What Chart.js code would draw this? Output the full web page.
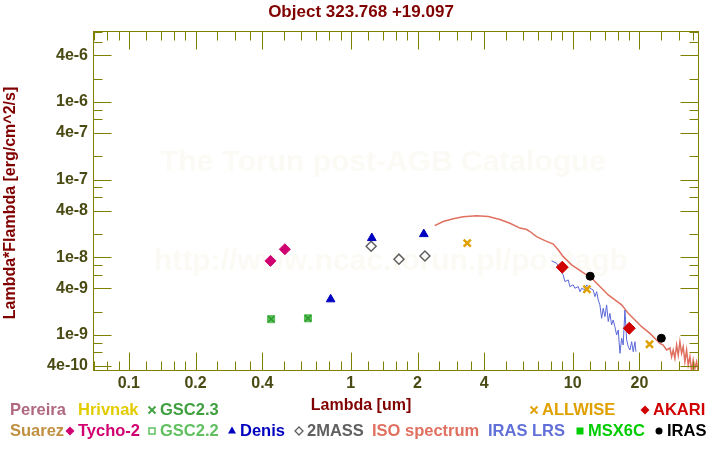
<!DOCTYPE html>
<html><head><meta charset="utf-8">
<script src="https://cdn.jsdelivr.net/npm/chart.js@4"></script>
<style>html,body{margin:0;padding:0;background:#fff}#wrap{width:720px;height:450px;position:relative}</style>
</head><body><div id="wrap"><canvas id="c" width="720" height="450"></canvas></div>
<script>
const titleText = 'Object 323.768 +19.097';
const xTitle = 'Lambda [um]';
const yTitle = 'Lambda*Flambda [erg/cm^2/s]';
const watermark1 = 'The Torun post-AGB Catalogue';
const watermark2 = 'http://www.ncac.torun.pl/postagb';

// photometry (wavelength in um, lambda*F_lambda in erg/cm^2/s)
const tychoWave = [0.435, 0.505];
const tychoFlux = [9.0e-9, 1.27e-8];
const gsc23Wave = [0.438, 0.642];
const gsc23Flux = [1.60e-9, 1.64e-9];
const gsc22Wave = [0.438, 0.642];
const gsc22Flux = [1.60e-9, 1.64e-9];
const denisWave = [0.812, 1.245, 2.135];
const denisFlux = [2.88e-9, 1.77e-8, 1.99e-8];
const twomassWave = [1.236, 1.65, 2.16];
const twomassFlux = [1.39e-8, 9.47e-9, 1.04e-8];
const allwiseWave = [3.35, 11.6, 22.2];
const allwiseFlux = [1.52e-8, 3.88e-9, 7.6e-10];
const akariWave = [8.98, 18.0];
const akariFlux = [7.46e-9, 1.22e-9];
const irasWave = [12.0, 25.1];
const irasFlux = [5.71e-9, 9.08e-10];

// ISO spectrum
const isoWave = [2.39, 2.61, 2.90, 3.21, 3.69, 4.17, 4.70, 5.22, 5.79, 6.21, 6.42, 6.88, 7.50, 8.18, 8.61, 9.07, 9.90, 10.98, 12.18, 13.27, 14.47, 15.50, 16.63, 17.81, 19.09, 20.46, 22.30, 24.73, 25.59, 26.50, 27.44, 27.92, 28.39, 28.89, 29.41, 29.91, 30.43, 30.97, 31.49, 32.05, 32.62, 33.17, 33.76, 34.36, 34.93, 35.55, 36.19, 36.80];
const isoFlux = [2.56e-8, 2.89e-8, 3.13e-8, 3.32e-8, 3.42e-8, 3.35e-8, 3.07e-8, 2.75e-8, 2.38e-8, 2.28e-8, 2.15e-8, 1.85e-8, 1.64e-8, 1.48e-8, 1.25e-8, 1.02e-8, 8.0e-9, 6.55e-9, 5.38e-9, 4.20e-9, 3.28e-9, 2.83e-9, 2.44e-9, 1.90e-9, 1.56e-9, 1.28e-9, 1.05e-9, 7.82e-10, 7.43e-10, 6.41e-10, 6.80e-10, 5.25e-10, 6.41e-10, 5.01e-10, 7.43e-10, 5.52e-10, 8.20e-10, 5.81e-10, 7.06e-10, 4.53e-10, 6.41e-10, 4.10e-10, 5.25e-10, 3.37e-10, 4.77e-10, 3.72e-10, 4.53e-10, 3.37e-10];

// IRAS LRS spectrum
const lrsWave = [8.04, 8.47, 8.77, 9.07, 9.23, 9.55, 9.72, 10.06, 10.24, 10.60, 10.79, 10.98, 11.36, 11.56, 11.96, 12.38, 12.60, 12.83, 13.04, 13.27, 13.51, 13.73, 13.98, 14.23, 14.47, 14.72, 14.98, 15.23, 15.50, 15.78, 16.05, 16.34, 16.63, 16.90, 17.20, 17.51, 17.81, 18.12, 18.45, 18.75, 19.09, 19.28];
const lrsFlux = [9.0e-9, 8.39e-9, 6.89e-9, 5.94e-9, 4.87e-9, 5.12e-9, 4.20e-9, 4.42e-9, 4.00e-9, 4.20e-9, 3.61e-9, 4.00e-9, 3.80e-9, 4.42e-9, 4.00e-9, 3.80e-9, 3.12e-9, 3.61e-9, 2.83e-9, 2.44e-9, 1.64e-9, 2.21e-9, 1.72e-9, 2.44e-9, 1.49e-9, 1.90e-9, 1.35e-9, 1.56e-9, 1.28e-9, 1.00e-9, 1.16e-9, 5.81e-10, 9.08e-10, 7.43e-10, 2.10e-9, 8.63e-10, 7.06e-10, 6.41e-10, 8.20e-10, 6.10e-10, 8.20e-10, 6.10e-10];

// axes
const xMin = 0.069, xMax = 37.1;
const yMin = 3.44e-10, yMax = 8.2e-6;
const xMajor = [0.1, 0.2, 0.4, 1, 2, 4, 10, 20];
const xMajorLabels = ['0.1', '0.2', '0.4', '1', '2', '4', '10', '20'];
const xMinor = [0.07, 0.08, 0.09, 0.12, 0.14, 0.16, 0.18, 0.25, 0.3, 0.35, 0.5, 0.6, 0.7, 0.8, 0.9, 1.2, 1.4, 1.6, 1.8, 2.5, 3, 3.5, 5, 6, 7, 8, 9, 12, 14, 16, 18, 25, 30, 35];
const yMajor = [4e-6, 1e-6, 4e-7, 1e-7, 4e-8, 1e-8, 4e-9, 1e-9, 4e-10];
const yMajorLabels = ['4e-6', '1e-6', '4e-7', '1e-7', '4e-8', '1e-8', '4e-9', '1e-9', '4e-10'];
const yMinor = [8e-6, 6e-6, 2e-6, 8e-7, 6e-7, 2e-7, 8e-8, 6e-8, 2e-8, 8e-9, 6e-9, 2e-9, 8e-10, 6e-10];

// legend rows
const legendRow1 = [
  {t: 'Pereira', c: '#b06880'},
  {t: 'Hrivnak', c: '#e2cc00'},
  {t: 'GSC2.3', c: '#40a040', m: 'cross'},
  {t: 'ALLWISE', c: '#e0a000', m: 'cross'},
  {t: 'AKARI', c: '#d00000', m: 'diamond'}
];
const legendRow2 = [
  {t: 'Suarez', c: '#c09040'},
  {t: 'Tycho-2', c: '#d00070', m: 'diamond'},
  {t: 'GSC2.2', c: '#60c060', m: 'hsquare'},
  {t: 'Denis', c: '#0000c0', m: 'triangle'},
  {t: '2MASS', c: '#606060', m: 'hdiamond'},
  {t: 'ISO spectrum', c: '#e07060'},
  {t: 'IRAS LRS', c: '#6070d8'},
  {t: 'MSX6C', c: '#00cc00', m: 'square'},
  {t: 'IRAS', c: '#000000', m: 'circle'}
];
// layout positions (px) for legend entries
const legendRow1X = [10, 78, 148, 530, 641];
const legendRow2X = [10, 66, 148, 228, 295, 372, 488, 576, 655];

const FONT = 'Liberation Sans, Arial, sans-serif';
const pts = (w, f) => w.map((x, i) => ({x, y: f[i]}));

function drawMarker(ctx, m, x, y, c) {
  ctx.save();
  ctx.fillStyle = c; ctx.strokeStyle = c; ctx.lineWidth = 1.8;
  ctx.beginPath();
  if (m === 'cross') {
    ctx.moveTo(x - 3.5, y - 3.5); ctx.lineTo(x + 3.5, y + 3.5);
    ctx.moveTo(x + 3.5, y - 3.5); ctx.lineTo(x - 3.5, y + 3.5); ctx.stroke();
  } else if (m === 'diamond') {
    ctx.moveTo(x, y - 4.5); ctx.lineTo(x + 4.5, y); ctx.lineTo(x, y + 4.5); ctx.lineTo(x - 4.5, y); ctx.closePath(); ctx.fill();
  } else if (m === 'hdiamond') {
    ctx.lineWidth = 1.3;
    ctx.moveTo(x, y - 4); ctx.lineTo(x + 4, y); ctx.lineTo(x, y + 4); ctx.lineTo(x - 4, y); ctx.closePath(); ctx.stroke();
  } else if (m === 'hsquare') {
    ctx.lineWidth = 1.5; ctx.strokeRect(x - 3, y - 3, 6, 6);
  } else if (m === 'square') {
    ctx.fillRect(x - 3.5, y - 3.5, 7, 7);
  } else if (m === 'triangle') {
    ctx.moveTo(x, y - 4.5); ctx.lineTo(x + 4, y + 2.5); ctx.lineTo(x - 4, y + 2.5); ctx.closePath(); ctx.fill();
  } else if (m === 'circle') {
    ctx.arc(x, y, 3.5, 0, Math.PI * 2); ctx.fill();
  }
  ctx.restore();
}

const decor = {
  id: 'decor',
  beforeDatasetsDraw(chart) {
    const ctx = chart.ctx;
    ctx.save();
    ctx.fillStyle = '#fcfaf4';
    ctx.font = 'bold 30px ' + FONT;
    ctx.textAlign = 'center'; ctx.textBaseline = 'middle';
    ctx.fillText(watermark1, 383, 163);
    ctx.fillText(watermark2, 391, 262);
    ctx.restore();
  },
  afterDatasetsDraw(chart) {
    const {ctx, chartArea: a, scales: {x, y}} = chart;
    ctx.save();
    ctx.strokeStyle = '#808000'; ctx.lineWidth = 1;
    const L = Math.round(a.left) + 0.5, R = Math.round(a.right) - 0.5;
    const T = Math.round(a.top) + 0.5, B = Math.round(a.bottom) - 0.5;
    ctx.strokeRect(L, T, R - L, B - T);
    ctx.beginPath();
    const xt = xMajor.map(v => [v, 18]).concat(xMinor.map(v => [v, 9]));
    xt.forEach(([v, len]) => {
      const p = Math.round(x.getPixelForValue(v)) + 0.5;
      if (p < L || p > R) return;
      ctx.moveTo(p, B); ctx.lineTo(p, B - len);
      ctx.moveTo(p, T); ctx.lineTo(p, T + len);
    });
    const yt = yMajor.map(v => [v, 18]).concat(yMinor.map(v => [v, 9]));
    yt.forEach(([v, len]) => {
      const p = Math.round(y.getPixelForValue(v)) + 0.5;
      if (p < T - 1 || p > B + 1) return;
      ctx.moveTo(L, p); ctx.lineTo(L + len, p);
      ctx.moveTo(R, p); ctx.lineTo(R - len, p);
    });
    ctx.stroke();
    ctx.restore();
  },
  afterDraw(chart) {
    const ctx = chart.ctx;
    ctx.save();
    ctx.fillStyle = '#800000';
    ctx.font = 'bold 17px ' + FONT;
    ctx.textAlign = 'center'; ctx.textBaseline = 'middle';
    ctx.fillText(titleText, 361, 12);
    ctx.font = 'bold 16px ' + FONT;
    ctx.fillText(xTitle, 361, 406);
    ctx.save();
    ctx.translate(11, 203); ctx.rotate(-Math.PI / 2);
    ctx.fillText(yTitle, 0, 0);
    ctx.restore();
    ctx.textAlign = 'left';
    const drawRow = (items, xs, yy) => {
      items.forEach((it, i) => {
        let px = xs[i];
        if (it.m) { drawMarker(ctx, it.m, px + 4, yy, it.c); px += 12; }
        ctx.fillStyle = it.c;
        ctx.fillText(it.t, px, yy);
      });
    };
    ctx.font = 'bold 16.5px ' + FONT;
    drawRow(legendRow1, legendRow1X, 410);
    drawRow(legendRow2, legendRow2X, 431);
    ctx.restore();
  }
};

const tickFont = {family: FONT, weight: 'bold', size: 16};
new Chart(document.getElementById('c'), {
  type: 'scatter',
  data: {
    datasets: [
      {label: 'ISO spectrum', data: pts(isoWave, isoFlux), showLine: true, borderColor: '#e07060', borderWidth: 1.5, pointRadius: 0, order: 10},
      {label: 'IRAS LRS', data: pts(lrsWave, lrsFlux), showLine: true, borderColor: '#5a68d8', borderWidth: 1, pointRadius: 0, order: 9},
      {label: 'GSC2.2', data: pts(gsc22Wave, gsc22Flux), pointStyle: 'rect', pointRadius: 5, backgroundColor: '#58c058', borderColor: '#58c058', order: 5},
      {label: 'GSC2.3', data: pts(gsc23Wave, gsc23Flux), pointStyle: 'crossRot', pointRadius: 4.5, borderColor: '#2f9a2f', borderWidth: 1.5, order: 4},
      {label: 'Tycho-2', data: pts(tychoWave, tychoFlux), pointStyle: 'rectRot', pointRadius: 5.5, backgroundColor: '#d00070', borderColor: '#d00070', order: 3},
      {label: 'Denis', data: pts(denisWave, denisFlux), pointStyle: 'triangle', pointRadius: 5, backgroundColor: '#0000c0', borderColor: '#0000c0', order: 3},
      {label: '2MASS', data: pts(twomassWave, twomassFlux), pointStyle: 'rectRot', pointRadius: 5, backgroundColor: 'rgba(0,0,0,0)', borderColor: '#606060', borderWidth: 1.5, order: 3},
      {label: 'ALLWISE', data: pts(allwiseWave, allwiseFlux), pointStyle: 'crossRot', pointRadius: 5, borderColor: '#e0a000', borderWidth: 2.5, order: 2},
      {label: 'AKARI', data: pts(akariWave, akariFlux), pointStyle: 'rectRot', pointRadius: 6, backgroundColor: '#d00000', borderColor: '#d00000', order: 1},
      {label: 'IRAS', data: pts(irasWave, irasFlux), pointStyle: 'circle', pointRadius: 4, backgroundColor: '#000000', borderColor: '#000000', order: 1}
    ]
  },
  options: {
    responsive: false, animation: false, devicePixelRatio: 1,
    layout: {padding: {left: 0, top: 31, right: 21, bottom: 0}},
    plugins: {legend: {display: false}, title: {display: false}, tooltip: {enabled: false}},
    scales: {
      x: {
        type: 'logarithmic', position: 'bottom', min: xMin, max: xMax,
        grid: {display: false, drawTicks: false}, border: {display: false},
        ticks: {autoSkip: false, maxRotation: 0, minRotation: 0, padding: 3, color: '#4a4a14', font: tickFont,
          callback: (v, i, t) => t[i].txt || ''},
        afterBuildTicks: s => {
          s.ticks = xMajor.map((v, i) => ({value: v, txt: xMajorLabels[i]})).concat(xMinor.map(v => ({value: v, txt: ''}))).sort((a, b) => a.value - b.value);
        },
        afterFit: s => { s.height = 79; }
      },
      y: {
        type: 'logarithmic', position: 'left', min: yMin, max: yMax,
        grid: {display: false, drawTicks: false}, border: {display: false},
        ticks: {autoSkip: false, padding: 5, color: '#4a4a14', font: tickFont,
          callback: (v, i, t) => t[i].txt || ''},
        afterBuildTicks: s => {
          s.ticks = yMajor.map((v, i) => ({value: v, txt: yMajorLabels[i]})).concat(yMinor.map(v => ({value: v, txt: ''}))).sort((a, b) => a.value - b.value);
        },
        afterFit: s => { s.width = 93; }
      }
    }
  },
  plugins: [decor]
});
</script>
</body></html>
